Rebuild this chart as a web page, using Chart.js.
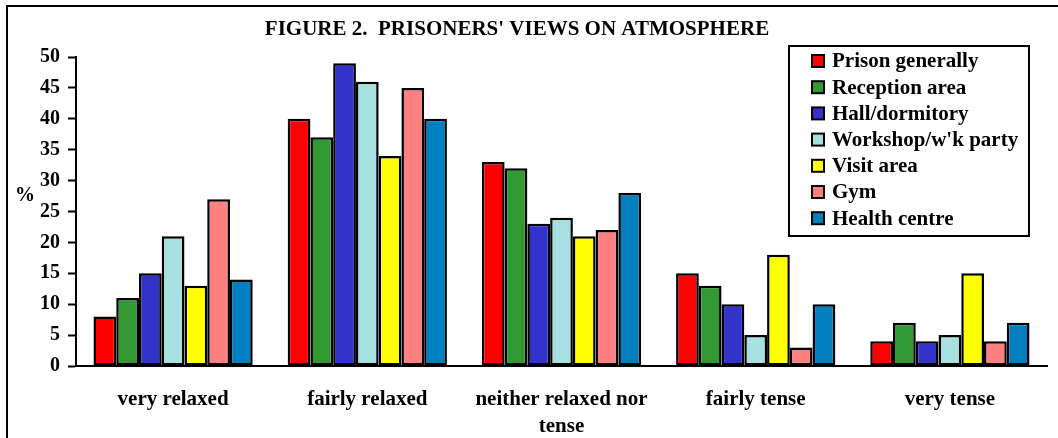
<!DOCTYPE html>
<html>
<head>
<meta charset="utf-8">
<script src="https://cdn.jsdelivr.net/npm/chart.js@4/dist/chart.umd.min.js"></script>
<style>
  html, body { margin: 0; padding: 0; background: #fff; }
  #wrap { width: 1058px; height: 438px; }
</style>
</head>
<body>
<div id="wrap"><canvas id="chart" width="1058" height="438"></canvas></div>
<script>
'use strict';

const TITLE = "FIGURE 2.  PRISONERS' VIEWS ON ATMOSPHERE";
const categories = [
  'very relaxed',
  'fairly relaxed',
  ['neither relaxed nor', 'tense'],
  'fairly tense',
  'very tense',
];
const seriesNames = [
  'Prison generally', 'Reception area', 'Hall/dormitory',
  'Workshop/w\'k party', 'Visit area', 'Gym', 'Health centre',
];
const seriesColors = ['#ff0000', '#339933', '#3333cc', '#a6e0e0', '#ffff00', '#ff8080', '#0080c0'];

const prisonGenerally = [8, 40, 33, 15, 4];
const receptionArea   = [11, 37, 32, 13, 7];
const hallDormitory   = [15, 49, 23, 10, 4];
const workshop        = [21, 46, 24, 5, 5];
const visitArea       = [13, 34, 21, 18, 15];
const gym             = [27, 45, 22, 3, 4];
const healthCentre    = [14, 40, 28, 10, 7];
const seriesValues = [prisonGenerally, receptionArea, hallDormitory, workshop, visitArea, gym, healthCentre];

const yTicks = { min: 0, max: 50, step: 5 };

const FONT = '"Liberation Serif", "Times New Roman", serif';

// frame, title, '%' label and the boxed legend
const decorations = {
  id: 'decorations',
  afterDraw(chart) {
    const ctx = chart.ctx;
    ctx.save();
    ctx.strokeStyle = '#000';
    ctx.lineWidth = 2;
    ctx.strokeRect(7, 6, 1060, 440);

    ctx.fillStyle = '#000';
    ctx.font = 'bold 21px ' + FONT;
    ctx.textAlign = 'center';
    ctx.textBaseline = 'middle';
    ctx.fillText(TITLE, 517, 30);

    ctx.font = 'bold 20px ' + FONT;
    ctx.fillText('%', 25, 196);

    // legend
    const box = { x: 789, y: 46, w: 240, h: 190 };
    ctx.fillStyle = '#fff';
    ctx.fillRect(box.x, box.y, box.w, box.h);
    ctx.strokeRect(box.x, box.y, box.w, box.h);
    ctx.font = 'bold 21px ' + FONT;
    ctx.textAlign = 'left';
    chart.data.datasets.forEach((ds, i) => {
      const cy = 61 + i * 26.2;
      ctx.fillStyle = ds.backgroundColor;
      ctx.fillRect(812, cy - 6, 12, 12);
      ctx.lineWidth = 2;
      ctx.strokeRect(812, cy - 6, 12, 12);
      ctx.fillStyle = '#000';
      ctx.fillText(ds.label, 832, cy + 1);
    });
    ctx.restore();
  },
};

new Chart(document.getElementById('chart'), {
  type: 'bar',
  data: {
    labels: categories,
    datasets: seriesNames.map((name, i) => ({
      label: name,
      data: seriesValues[i],
      backgroundColor: seriesColors[i],
      borderColor: '#000',
      borderWidth: 2.5,
      borderSkipped: false,
      categoryPercentage: 0.82,
      barPercentage: 1,
    })),
  },
  options: {
    responsive: false,
    animation: false,
    layout: { padding: { left: 0, right: 11, top: 57, bottom: 0 } },
    plugins: {
      legend: { display: false },
      title: { display: false },
      tooltip: { enabled: false },
    },
    scales: {
      x: {
        grid: { display: false, drawTicks: false },
        border: { display: true, color: '#000', width: 2 },
        ticks: {
          color: '#000',
          font: { family: FONT, size: 21, weight: 'bold', lineHeight: 1.28 },
          padding: 20,
          maxRotation: 0,
          autoSkip: false,
        },
        afterFit(scale) { scale.height = 72; },
      },
      y: {
        min: yTicks.min,
        max: yTicks.max,
        grid: { display: true, drawOnChartArea: false, drawTicks: true, tickLength: 8, tickWidth: 2, tickColor: '#000' },
        border: { display: true, color: '#000', width: 2 },
        ticks: {
          stepSize: yTicks.step,
          color: '#000',
          font: { family: FONT, size: 20, weight: 'bold' },
          padding: 8,
        },
        afterFit(scale) { scale.width = 76; },
      },
    },
  },
  plugins: [decorations],
});
</script>
</body>
</html>
